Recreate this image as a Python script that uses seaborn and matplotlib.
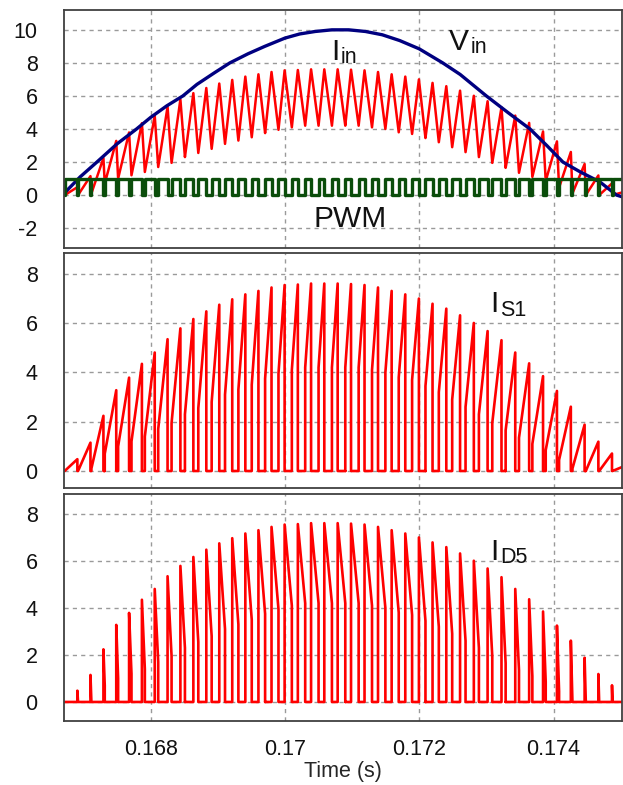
import numpy as np
import pandas as pd
import matplotlib
matplotlib.use("Agg")
import matplotlib.pyplot as plt
import seaborn as sns

# ---------------- data ----------------
# input voltage (navy curve), time in s
vin_time = [0.16671, 0.16695, 0.16720, 0.16750, 0.16779, 0.16800, 0.16824, 0.16848,
            0.16869, 0.16895, 0.16918, 0.16945, 0.16970, 0.17000, 0.17022, 0.17045,
            0.17070, 0.17095, 0.17120, 0.17145, 0.17171, 0.17200, 0.17235, 0.17261,
            0.17300, 0.17332, 0.17365, 0.17390, 0.17414, 0.17440, 0.17469, 0.17494, 0.17502]
vin_value = [0.1, 1.1, 2.0, 3.1, 4.0, 4.7, 5.4, 6.0,
             6.7, 7.4, 8.0, 8.55, 9.0, 9.5, 9.75, 9.9,
             10.0, 10.0, 9.9, 9.7, 9.35, 8.85, 8.0, 7.3,
             6.0, 5.0, 4.0, 3.0, 2.0, 1.4, 0.8, 0.0, -0.1]

# switching cycles
first_turn_on = 0.16672
switch_period = 0.000199
duty = [0.95, 0.93, 0.90, 0.86, 0.82, 0.78, 0.74, 0.70, 0.66, 0.63, 0.60, 0.57, 0.54, 0.52,
        0.50, 0.48, 0.46, 0.45, 0.44, 0.43, 0.43, 0.43, 0.44, 0.45, 0.47, 0.49, 0.51, 0.53,
        0.56, 0.59, 0.62, 0.65, 0.69, 0.72, 0.76, 0.80, 0.84, 0.88, 0.91, 0.94, 0.96, 0.97]
i_peak = [0.48, 1.15, 2.24, 3.28, 3.79, 4.35, 4.81, 5.35, 5.79, 6.17, 6.48, 6.75, 6.97, 7.17,
          7.31, 7.45, 7.55, 7.57, 7.61, 7.61, 7.61, 7.59, 7.55, 7.45, 7.31, 7.17, 7.00, 6.79,
          6.59, 6.32, 6.01, 5.68, 5.31, 4.81, 4.37, 3.85, 3.25, 2.61, 1.88, 1.19, 0.71, 0.22]
i_valley = [0.0, 0.0, 0.1, 0.7, 1.0, 1.2, 1.4, 1.7, 1.95, 2.3, 2.55, 2.8, 3.1, 3.3,
            3.5, 3.75, 3.95, 4.1, 4.2, 4.2, 4.2, 4.2, 4.2, 4.1, 4.0, 3.8, 3.7, 3.45,
            3.2, 2.9, 2.6, 2.3, 1.95, 1.65, 1.35, 1.1, 0.85, 0.45, 0.1, 0.0, 0.0, 0.0]

x_ticks = [0.168, 0.170, 0.172, 0.174]
x_tick_labels = ["0.168", "0.17", "0.172", "0.174"]
y1_ticks = [-2, 0, 2, 4, 6, 8, 10]
y23_ticks = [0, 2, 4, 6, 8]

# ---------------- build waveforms from the cycle table ----------------
cyc = pd.DataFrame({"duty": duty, "peak": i_peak, "valley": i_valley})
cyc["t_on"] = first_turn_on + switch_period * np.arange(len(cyc))
cyc["t_off"] = cyc["t_on"] + cyc["duty"] * switch_period
cyc["t_next"] = cyc["t_on"] + switch_period
cyc["valley_next"] = list(i_valley[1:]) + [0.0]

iin_t, iin_v = [], []
is1_t, is1_v = [], []
id5_t, id5_v = [], []
pwm_t, pwm_v = [], []
for r in cyc.itertuples():
    iin_t += [r.t_on, r.t_off, r.t_next]
    iin_v += [r.valley, r.peak, r.valley_next]
    is1_t += [r.t_on, r.t_on, r.t_off, r.t_off, r.t_next]
    is1_v += [0, r.valley, r.peak, 0, 0]
    id5_t += [r.t_on, r.t_off, r.t_off, r.t_next, r.t_next]
    id5_v += [0, 0, r.peak, r.valley_next, 0]
    pwm_t += [r.t_on, r.t_on, r.t_off, r.t_off, r.t_next]
    pwm_v += [0, 1, 1, 0, 0]

df_vin = pd.DataFrame({"t": vin_time, "v": vin_value})
df_iin = pd.DataFrame({"t": iin_t, "v": iin_v})
df_is1 = pd.DataFrame({"t": is1_t, "v": is1_v})
df_id5 = pd.DataFrame({"t": id5_t, "v": id5_v})
df_pwm = pd.DataFrame({"t": pwm_t, "v": pwm_v})

# ---------------- figure ----------------
sns.set_style("white")
plt.rcParams["font.family"] = ["Liberation Sans", "DejaVu Sans"]
plt.rcParams["axes.unicode_minus"] = False

W, H = 623, 785
fig = plt.figure(figsize=(W / 100, H / 100), dpi=100)

def px_axes(left, top, right, bottom):
    return fig.add_axes([left / W, 1 - bottom / H, (right - left) / W, (bottom - top) / H])

ax1 = px_axes(64, 10, 622, 248)
ax2 = px_axes(64, 252.5, 622, 488)
ax3 = px_axes(64, 494, 622, 721)

RED = "#ff0000"
NAVY = "#000080"
GREEN = "#0b4d0b"

sns.lineplot(data=df_iin, x="t", y="v", ax=ax1, color=RED, lw=1.8, sort=False, estimator=None)
sns.lineplot(data=df_vin, x="t", y="v", ax=ax1, color=NAVY, lw=2.4, sort=False, estimator=None)
sns.lineplot(data=df_pwm, x="t", y="v", ax=ax1, color=GREEN, lw=2.4, sort=False, estimator=None)
sns.lineplot(data=df_is1, x="t", y="v", ax=ax2, color=RED, lw=1.9, sort=False, estimator=None)
sns.lineplot(data=df_id5, x="t", y="v", ax=ax3, color=RED, lw=1.9, sort=False, estimator=None)

for ax in (ax1, ax2, ax3):
    ax.set_xlim(0.16671, 0.17502)
    ax.set_xticks(x_ticks)
    ax.set_xlabel("")
    ax.set_ylabel("")
    ax.grid(True, color="#9a9a9a", lw=1.0, ls=(0, (3, 3)))
    ax.set_axisbelow(True)
    for s in ax.spines.values():
        s.set_color("#404040")
        s.set_linewidth(1.3)
    ax.tick_params(axis="both", length=0, labelsize=15.5, colors="#111111")
    ax.tick_params(axis="y", pad=19)
    ax.tick_params(axis="x", pad=13)

ax1.set_ylim(-3.2, 11.2)
ax1.set_yticks(y1_ticks)
ax2.set_ylim(-0.69, 8.87)
ax2.set_yticks(y23_ticks)
ax3.set_ylim(-0.81, 8.85)
ax3.set_yticks(y23_ticks)
ax1.set_xticklabels([])
ax2.set_xticklabels([])
ax3.set_xticklabels(x_tick_labels)
ax3.set_xlabel("Time (s)", fontsize=15.5, labelpad=1)

big, small = 21.5, 15.5
tc = "#111111"
def lab(ax, x, y, s, size):
    ax.text(x, y, s, transform=ax.transAxes, fontsize=size, color=tc, ha="left", va="baseline")

lab(ax1, 0.4797, 0.790, "I", big); lab(ax1, 0.4965, 0.7756, "in", small)
lab(ax1, 0.6905, 0.832, "V", big); lab(ax1, 0.7290, 0.818, "in", small)
lab(ax1, 0.4468, 0.0895, "PWM", big)
lab(ax2, 0.7647, 0.749, "I", big); lab(ax2, 0.7815, 0.732, "S1", small)
lab(ax3, 0.7647, 0.709, "I", big); lab(ax3, 0.7815, 0.697, "D5", small)

fig.savefig("out.png", dpi=100, facecolor="white")
